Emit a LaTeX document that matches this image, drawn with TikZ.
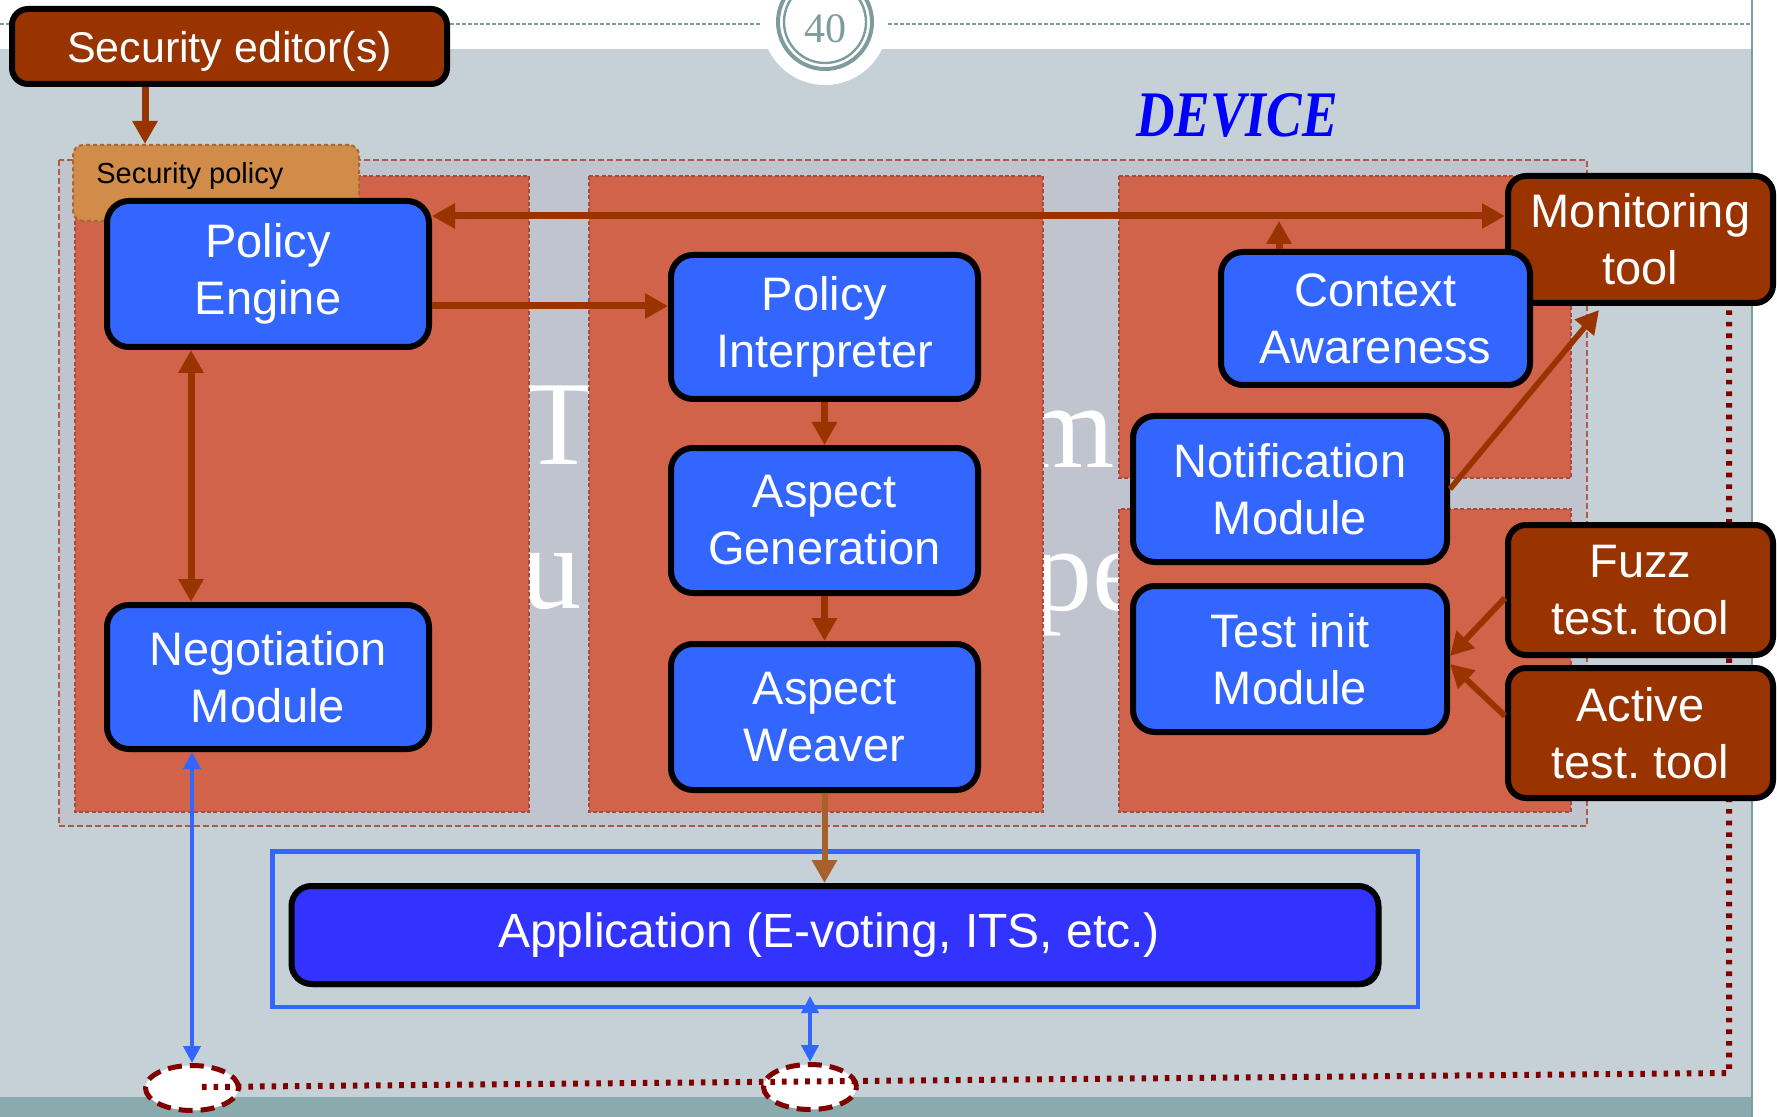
\documentclass[tikz,border=0pt]{standalone}
\usepackage{fontspec}
\setmainfont{Liberation Sans}
\newfontfamily\titleserif{Liberation Serif}
\usetikzlibrary{arrows.meta,shapes.geometric,calc,shadows}
\frenchspacing

\definecolor{slidebg}{HTML}{C5D0D7}
\definecolor{devbg}{HTML}{BFC4CE}
\definecolor{devedge}{HTML}{B05A48}
\definecolor{panelfill}{HTML}{D1634A}
\definecolor{paneledge}{HTML}{A94A3A}
\definecolor{boxblue}{HTML}{3366FF}
\definecolor{appblue}{HTML}{3333FF}
\definecolor{rust}{HTML}{993300}
\definecolor{policytan}{HTML}{D08C48}
\definecolor{policyedge}{HTML}{A8682E}
\definecolor{wirered}{HTML}{800000}
\definecolor{bandteal}{HTML}{8AABAD}
\definecolor{rulegray}{HTML}{7E9C9C}
\definecolor{weavearrow}{HTML}{A8602C}

\tikzset{
  modbox/.style={draw=black, line width=3pt, fill=boxblue, rounded corners=11pt,
    text=white, align=center, inner sep=0pt, font=\fontsize{23.5}{28.5}\selectfont},
  toolbox/.style={modbox, fill=rust, rounded corners=9pt},
  panel/.style={fill=panelfill, draw=paneledge, line width=0.6pt, dash pattern=on 2pt off 1.2pt},
  flow/.style={draw=rust, line width=3.5pt, -{Triangle[length=11.5pt,width=12pt]}},
  twoway/.style={draw=rust, line width=3.5pt,
    {Triangle[length=11.5pt,width=12pt]}-{Triangle[length=11.5pt,width=12pt]}},
  link/.style={draw=boxblue, line width=2pt,
    {Triangle[length=8.5pt,width=8.5pt]}-{Triangle[length=8.5pt,width=8.5pt]}},
  ghost/.style={text=white, inner sep=0pt, font=\titleserif\fontsize{60}{60}\selectfont},
  portal/.style={ellipse, draw=wirered, fill=white, line width=2.5pt,
    dash pattern=on 7pt off 4pt, minimum width=46.5pt, minimum height=22.5pt, inner sep=0pt},
  wire/.style={draw=wirered, line width=3pt, dash pattern=on 2.3pt off 3.5pt},
}

\begin{document}
\begin{tikzpicture}[x=0.5pt, y=-0.5pt]
\useasboundingbox (0,0) rectangle (1777,1117);

% slide background
\fill[white] (0,0) rectangle (1777,1117);
\fill[slidebg] (0,49) rectangle (1752,1097);
\fill[bandteal] (0,1097) rectangle (1752,1117);
\draw[rulegray, line width=0.8pt] (1752,0) -- (1752,1117);
\draw[rulegray, line width=0.8pt, dash pattern=on 2pt off 1pt] (0,24) -- (1752,24);

% page number badge
\fill[white] (825,22) circle[radius=63];
\draw[rulegray, line width=2pt] (825,22) circle[radius=47];
\draw[rulegray, line width=1.2pt] (825,22) circle[radius=41];
\node[text=rulegray, inner sep=0pt, font=\titleserif\fontsize{21}{21}\selectfont] (pnum) at (825,29) {40};

% device label
\node[text=blue, inner sep=0pt, font=\titleserif\bfseries\itshape\fontsize{32.5}{32.5}\selectfont]
  (devname) at (1237,115) {\scalebox{0.82}[1]{DEVICE}};

% device area
\draw[devedge, fill=devbg, line width=1pt, dash pattern=on 3pt off 1.5pt] (59,160) rectangle (1587,826);

% title letters behind the panels
\node[ghost, anchor=base] (gT) at (559,465) {T};
\node[ghost, anchor=base west] (gu) at (521,608) {u};
\node[ghost, anchor=base east] (gm) at (1115,467) {m};
\node[ghost, anchor=base west] (gpe) at (1032,610) {pe};

% component panels
\path[panel] (75,176) rectangle (529,812);
\path[panel] (589,176) rectangle (1043,812);
\path[panel] (1119,176) rectangle (1571,478);
\path[panel] (1119,509) rectangle (1571,812);

% security policy tab
\node[draw=policyedge, fill=policytan, dash pattern=on 2pt off 1.5pt, line width=1pt,
  rounded corners=5pt, minimum width=143pt, minimum height=38pt, inner sep=0pt] (sp) at (216,183) {};
\node[anchor=west, inner sep=0pt, font=\fontsize{14.5}{17}\selectfont] (splabel) at (96,176) {Security policy};

% network endpoints and the monitoring channel (runs behind the tool boxes)
\node[portal] (e1) at (192,1088) {};
\node[portal] (e2) at (810,1087) {};
\coordinate (wcorner) at (1729,1073);
\coordinate (wtop) at (1729,304);
\draw[wire] ($(e1.center)+(10,-1)$) -- (wcorner) -- (wtop);

% external tools
\node[toolbox, rounded corners=8pt, minimum width=217.5pt, minimum height=37.5pt,
  text height=18.5pt, text depth=2.5pt,
  font=\fontsize{21.5}{26}\selectfont] (se) at (229.5,46.5) {Security editor(s)};
\node[toolbox, minimum width=132.5pt, minimum height=63.5pt] (mt) at (1640.5,239.5) {Monitoring\\tool};
\node[toolbox, minimum width=132.5pt, minimum height=65pt] (fz) at (1640.5,590) {Fuzz\\test. tool};
\node[toolbox, minimum width=132.5pt, minimum height=65pt] (at) at (1640.5,733) {Active\\test. tool};

% device modules
\node[modbox, minimum width=161pt, minimum height=73pt] (pe) at (268,274) {Policy\\Engine};
\node[modbox, minimum width=161pt, minimum height=72pt] (nm) at (268,677) {Negotiation\\Module};
\node[modbox, minimum width=153.5pt, minimum height=72pt] (pi) at (824.5,327) {Policy\\Interpreter};
\node[modbox, minimum width=153.5pt, minimum height=72.5pt] (ag) at (824.5,520.5) {Aspect\\Generation};
\node[modbox, minimum width=153.5pt, minimum height=73pt] (aw) at (824.5,717) {Aspect\\Weaver};
\node[modbox, minimum width=154.5pt, minimum height=66.5pt] (ca) at (1375.5,318.5) {Context\\Awareness};
\node[modbox, minimum width=157pt, minimum height=73pt] (nt) at (1290,489) {Notification\\Module};
\node[modbox, minimum width=157pt, minimum height=73pt] (ti) at (1290,659) {Test init\\Module};

% application
\node[draw=boxblue, line width=2.25pt, minimum width=572.75pt, minimum height=77.75pt, inner sep=0pt]
  (appframe) at (845,929) {};
\node[modbox, fill=appblue, rounded corners=10pt, minimum width=543.5pt, minimum height=49pt,
  font=\fontsize{24}{28.5}\selectfont,
  drop shadow={shadow xshift=1pt, shadow yshift=-1.5pt, opacity=1, fill=black}]
  (app) at (835,935) {Application (E-voting, ITS, etc.)\hspace*{6pt}};

% helper coordinates
\coordinate (xsp) at (145,0);
\coordinate (ybus) at (0,216);
\coordinate (xca) at (1279,0);
\coordinate (ycatip) at (0,221);
\coordinate (ylink) at (0,306);
\coordinate (xneg) at (191,0);
\coordinate (mtfoot) at (1599,310);
\coordinate (fzout) at (0,598);
\coordinate (tiin1) at (0,656);
\coordinate (atout) at (0,716);
\coordinate (tiin2) at (0,664);

% connectors
\draw[flow] (se.south -| xsp) -- (sp.north -| xsp);
\draw[twoway] (pe.east |- ybus) -- (mt.west |- ybus);
\draw[flow] (ca.north -| xca) -- (xca |- ycatip);
\draw[flow] (pe.east |- ylink) -- (pi.west |- ylink);
\draw[twoway] (pe.south -| xneg) -- (nm.north -| xneg);
\draw[flow] (pi.south) -- (ag.north);
\draw[flow] (ag.south) -- (aw.north);
\draw[flow, draw=weavearrow, line width=3pt] (aw.south) -- (app.north -| aw.south);
\draw[flow, line width=2.8pt] (nt.east) -- (mtfoot);
\draw[flow, line width=3pt] (fz.west |- fzout) -- (ti.east |- tiin1);
\draw[flow, line width=3pt] (at.west |- atout) -- (ti.east |- tiin2);

\draw[link] (nm.south -| e1.north) -- (e1.north);
\draw[link] ($(app.south -| e2.north)+(0,9)$) -- (e2.north);
\end{tikzpicture}
\end{document}
